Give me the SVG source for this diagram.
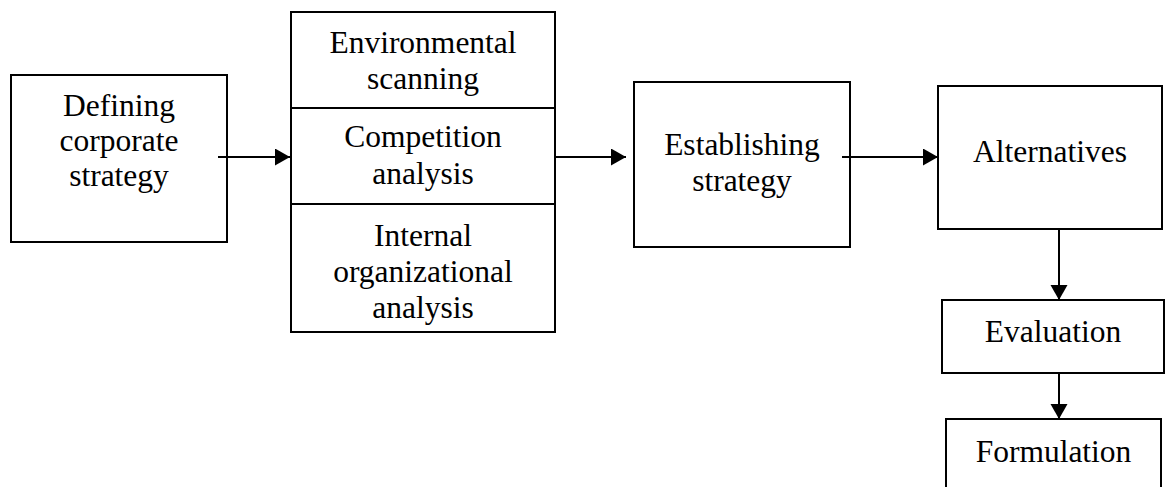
<svg xmlns="http://www.w3.org/2000/svg" width="1166" height="487" viewBox="0 0 1166 487">
<style>
rect{fill:#fff;stroke:#000;stroke-width:2}
text{font-family:"Liberation Serif","Times New Roman",serif;font-size:31.5px;fill:#000;text-anchor:middle}
.c line{stroke:#000;stroke-width:2}
</style>
<defs>
<marker id="ah" markerWidth="16" markerHeight="18" refX="15" refY="8.5" orient="auto" markerUnits="userSpaceOnUse">
<path d="M0,0 L15,8.5 L0,17 Z" fill="#000"/>
</marker>
</defs>
<rect x="0" y="0" width="1166" height="487" style="stroke:none"/>
<g id="n1"><rect x="11" y="75" width="216" height="167"/><text x="119" y="116">Defining</text><text x="119" y="151">corporate</text><text x="119" y="186">strategy</text></g>
<g id="n2"><rect x="291" y="12" width="264" height="96"/><text x="423" y="53">Environmental</text><text x="423" y="89">scanning</text></g>
<g id="n3"><rect x="291" y="108" width="264" height="96"/><text x="423" y="147">Competition</text><text x="423" y="184">analysis</text></g>
<g id="n4"><rect x="291" y="204" width="264" height="128"/><text x="423" y="246">Internal</text><text x="423" y="282">organizational</text><text x="423" y="318">analysis</text></g>
<g id="n5"><rect x="634" y="82" width="216" height="165"/><text x="742" y="155">Establishing</text><text x="742" y="191">strategy</text></g>
<g id="n6"><rect x="938" y="86" width="224" height="143"/><text x="1050" y="162">Alternatives</text></g>
<g id="n7"><rect x="942" y="300" width="222" height="73"/><text x="1053" y="342">Evaluation</text></g>
<g id="n8"><rect x="946" y="419" width="215" height="80"/><text x="1053.5" y="462">Formulation</text></g>
<g class="c" id="connectors">
<line x1="218" y1="157" x2="290" y2="157" marker-end="url(#ah)"/>
<line x1="555" y1="157" x2="626" y2="157" marker-end="url(#ah)"/>
<line x1="842" y1="157" x2="938" y2="157" marker-end="url(#ah)"/>
<line x1="1059" y1="229" x2="1059" y2="300" marker-end="url(#ah)"/>
<line x1="1059" y1="373" x2="1059" y2="419" marker-end="url(#ah)"/>
</g>
</svg>
